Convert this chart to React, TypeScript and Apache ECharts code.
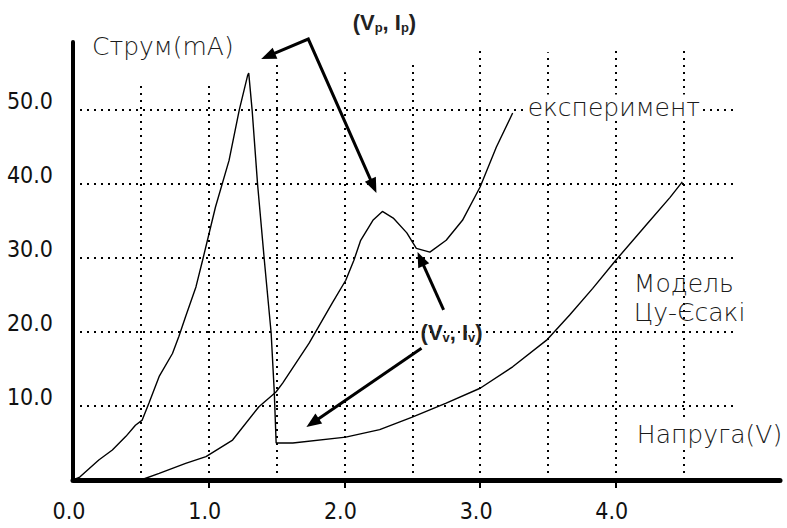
import React, { useEffect, useRef } from "react";
import * as echarts from "echarts";

// Tsu-Esaki model curve (voltage V, current mA)
const modelVoltage = [0, 0.05, 0.19, 0.29, 0.39, 0.46, 0.51, 0.56, 0.635, 0.733, 0.78, 0.83, 0.906, 0.955, 1.05, 1.15, 1.225, 1.287, 1.295, 1.32, 1.36, 1.41, 1.46, 1.483, 1.497, 1.62, 2.01, 2.26, 2.5, 2.75, 3.0, 3.24, 3.49, 3.66, 3.83, 4.0, 4.23, 4.4, 4.49];
const modelCurrent = [0, 0.4, 2.7, 4.05, 5.9, 7.4, 8.1, 10.4, 14.0, 17.1, 19.4, 22.1, 26.1, 29.7, 36.9, 43.2, 50.0, 54.7, 55.0, 50.0, 40.0, 29.7, 19.9, 12.0, 5.0, 5.0, 5.8, 6.8, 8.5, 10.4, 12.4, 15.3, 18.9, 22.3, 25.9, 29.7, 34.6, 38.2, 40.3];

// Experiment curve
const expVoltage = [0.5, 0.635, 0.83, 0.98, 1.176, 1.37, 1.496, 1.545, 1.74, 1.91, 2.01, 2.07, 2.12, 2.21, 2.28, 2.36, 2.46, 2.53, 2.63, 2.75, 2.87, 3.0, 3.12, 3.24];
const expCurrent = [0, 0.9, 2.25, 3.15, 5.4, 9.9, 11.9, 13.1, 18.5, 23.9, 27.0, 29.7, 32.4, 35.1, 36.3, 35.4, 33.4, 31.3, 30.8, 32.4, 35.1, 39.6, 45.0, 49.6];

const xTickLabels = [0, 1, 2, 3, 4];
const xTickMarks = [1, 2, 3, 4];
const yTickLabels = [10, 20, 30, 40, 50];

const gridCurrents = [10, 20, 30, 40, 50];
const gridVoltages = [0.5, 1.0, 1.5, 2.0, 2.5, 3.0, 3.5, 4.0, 4.5];
const gridVoltageTops = [53.8, 53.8, 56.4, 55.1, 56.4, 58.5, 57.8, 58.5, 58.5];
const gridCurrentEnd = 4.9;

const NARROW = "'Liberation Sans Narrow', 'DejaVu Sans Condensed', 'Arial Narrow', sans-serif";
const SANS = "'DejaVu Sans', Verdana, sans-serif";
const BOLD = "'Liberation Sans', Arial, sans-serif";

export default function App() {
  const ref = useRef<HTMLDivElement>(null);

  useEffect(() => {
    if (!ref.current) return;
    const chart = echarts.init(ref.current, null, { renderer: "svg" });

    const gridLineData: any[] = [];
    gridCurrents.forEach((c) => {
      gridLineData.push([{ coord: [0, c] }, { coord: [gridCurrentEnd, c] }]);
    });
    gridVoltages.forEach((v, i) => {
      gridLineData.push([{ coord: [v, 0] }, { coord: [v, gridVoltageTops[i]] }]);
    });

    const option: any = {
      animation: false,
      backgroundColor: "#fff",
      grid: { left: 73, right: 7, top: 42, bottom: 48 },
      xAxis: {
        type: "value",
        min: 0,
        max: 5.21,
        axisLine: { show: true, onZero: false, lineStyle: { color: "#000", width: 5 } },
        axisTick: { show: true, customValues: xTickMarks, length: 8, lineStyle: { color: "#000", width: 2 } },
        axisLabel: {
          customValues: xTickLabels,
          formatter: (v: number) => v.toFixed(1),
          margin: 19,
          fontFamily: NARROW,
          fontSize: 23,
          color: "#111",
          padding: [0, 8, 0, 0],
        },
        splitLine: { show: false },
      },
      yAxis: {
        type: "value",
        min: 0,
        max: 59.2,
        axisLine: { show: true, lineStyle: { color: "#000", width: 4 } },
        axisTick: { show: false },
        axisLabel: {
          customValues: yTickLabels,
          formatter: (v: number) => v.toFixed(1),
          margin: 20,
          fontFamily: NARROW,
          fontSize: 23,
          color: "#111",
          verticalAlign: "bottom",
          lineHeight: 19,
        },
        splitLine: { show: false },
      },
      series: [
        {
          type: "line",
          data: [],
          z: 1,
          silent: true,
          markLine: {
            silent: true,
            symbol: "none",
            label: { show: false },
            lineStyle: { color: "#000", width: 2, type: [2, 5] },
            data: gridLineData,
          },
        },
        {
          name: "model",
          type: "line",
          z: 3,
          showSymbol: false,
          lineStyle: { color: "#000", width: 1.4 },
          data: modelVoltage.map((v, i) => [v, modelCurrent[i]]),
        },
        {
          name: "experiment",
          type: "line",
          z: 3,
          showSymbol: false,
          lineStyle: { color: "#000", width: 1.4 },
          data: expVoltage.map((v, i) => [v, expCurrent[i]]),
        },
      ],
    };
    chart.setOption(option);

    const p = (x: number, y: number) => chart.convertToPixel({ gridIndex: 0 }, [x, y]) as number[];

    const arrowHead = (from: number[], tip: number[]) => {
      const dx = tip[0] - from[0];
      const dy = tip[1] - from[1];
      const len = Math.hypot(dx, dy);
      const ux = dx / len, uy = dy / len;
      const hl = 15, hw = 6;
      const bx = tip[0] - ux * hl, by = tip[1] - uy * hl;
      return {
        base: [bx + ux * 2, by + uy * 2],
        poly: [tip, [bx - uy * hw, by + ux * hw], [bx + uy * hw, by - ux * hw]],
      };
    };

    const graphics: any[] = [];
    // white masks behind annotation labels
    const mask = (x0: number, y0: number, x1: number, y1: number) => {
      const a = p(x0, y0), b = p(x1, y1);
      graphics.push({
        type: "rect",
        z: 2,
        silent: true,
        shape: { x: Math.min(a[0], b[0]), y: Math.min(a[1], b[1]), width: Math.abs(b[0] - a[0]), height: Math.abs(b[1] - a[1]) },
        style: { fill: "#fff" },
      });
    };
    mask(2.332, 25.4, 3.269, 16.5);
    mask(4.177, 29.5, 4.841, 18.9);

    const drawArrow = (tail: number[], tip: number[]) => {
      const h = arrowHead(tail, tip);
      graphics.push({ type: "line", z: 6, shape: { x1: tail[0], y1: tail[1], x2: h.base[0], y2: h.base[1] }, style: { stroke: "#000", lineWidth: 3 } });
      graphics.push({ type: "polygon", z: 6, shape: { points: h.poly }, style: { fill: "#000" } });
    };

    // peak arrows (bent)
    const vertex = p(1.734, 59.6);
    const tipA = p(1.387, 56.9);
    const tipB = p(2.236, 38.8);
    const hA = arrowHead(vertex, tipA);
    const hB = arrowHead(vertex, tipB);
    graphics.push({ type: "polyline", z: 6, shape: { points: [hA.base, vertex, hB.base] }, style: { stroke: "#000", lineWidth: 3, fill: null } });
    graphics.push({ type: "polygon", z: 6, shape: { points: hA.poly }, style: { fill: "#000" } });
    graphics.push({ type: "polygon", z: 6, shape: { points: hB.poly }, style: { fill: "#000" } });

    // valley arrows
    drawArrow(p(2.731, 23.0), p(2.539, 30.8));
    drawArrow(p(2.568, 17.8), p(1.72, 7.16));

    const text = (x: number, y: number, str: string, extra: any) => {
      const q = p(x, y);
      graphics.push({
        type: "text",
        z: 7,
        x: q[0],
        y: q[1],
        style: Object.assign({ text: str, fill: "#1a1a1a", fontFamily: SANS, fontSize: 25, fontWeight: 300, align: "left", verticalAlign: "middle" }, extra),
      });
    };

    text(0.14, 58.6, "Струм(mA)", { backgroundColor: "#fff" });
    text(3.343, 50.4, "експеримент", { backgroundColor: "#fff", padding: [0, 1] });
    text(4.133, 24.6, "Модель\nЦу-Єсакі", { lineHeight: 29 });
    text(4.155, 6.2, "Напруга(V)", { backgroundColor: "#fff" });

    const rich = {
      m: { fontSize: 22, fontWeight: "bold", fontFamily: BOLD, fill: "#222", lineHeight: 24, verticalAlign: "middle" },
      s: { fontSize: 13, fontWeight: "bold", fontFamily: BOLD, fill: "#222", lineHeight: 13, verticalAlign: "bottom" },
    };
    text(2.295, 61.9, "{m|(V}{s|p}{m|, I}{s|p}{m|)}", { fontFamily: BOLD, fontWeight: "bold", fontSize: 22, align: "center", rich });
    text(2.79, 20.0, "{m|(V}{s|v}{m|, I}{s|v}{m|)}", { fontFamily: BOLD, fontWeight: "bold", fontSize: 22, align: "center", rich });

    chart.setOption({ graphic: graphics });

    return () => chart.dispose();
  }, []);

  return <div ref={ref} style={{ position: "fixed", left: 0, top: 0, width: 787, height: 528 }} />;
}
